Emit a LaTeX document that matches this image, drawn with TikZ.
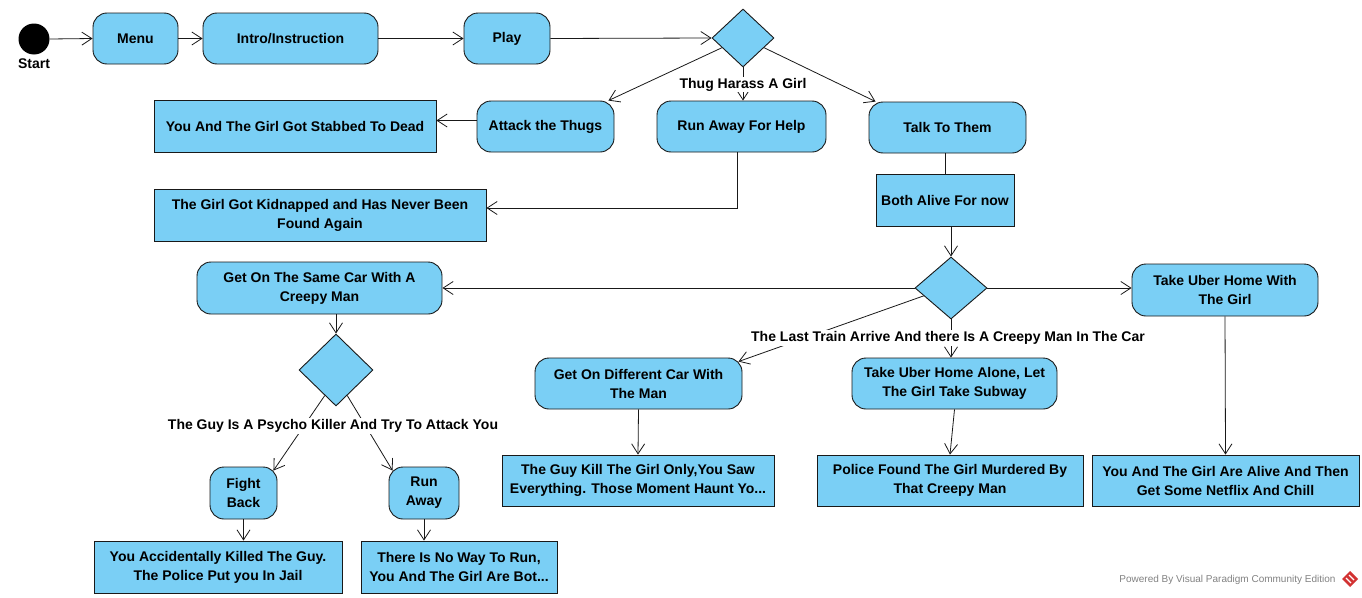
\documentclass[tikz,border=0pt]{standalone}
\usepackage{fontspec}
\setmainfont{Liberation Sans}
\usetikzlibrary{shapes.geometric,arrows.meta,calc}
\definecolor{vpblue}{RGB}{122,207,245}
\definecolor{vpline}{RGB}{25,25,25}
\definecolor{vpgray}{RGB}{130,130,130}
\definecolor{vpred}{RGB}{210,50,50}
\begin{document}
\begin{tikzpicture}[x=1pt,y=-1pt,
  every node/.style={font=\fontsize{14}{19}\selectfont\bfseries, text=black},
  act/.style={draw=vpline, fill=vpblue, rounded corners=14pt, align=center, inner sep=0pt, line width=0.9pt},
  res/.style={draw=vpline, fill=vpblue, align=center, inner sep=0pt, line width=0.9pt},
  dec/.style={diamond, draw=vpline, fill=vpblue, inner sep=0pt, line width=0.9pt},
  flow/.style={-{Straight Barb[length=10pt,width=13pt]}, line width=0.8pt, draw=vpline},
  plain/.style={line width=0.8pt, draw=vpline},
  lbl/.style={fill=white, inner sep=1pt}]
\useasboundingbox (0,0) rectangle (1362,597);
\fill[white] (0,0) rectangle (1362,597);

% nodes
\node[circle, fill=black, minimum size=31pt, inner sep=0pt] (start) at (34,39) {};
\node (startlbl) at (34,64) {Start};
\node[act, minimum width=85pt, minimum height=51pt] (menu) at (135.5,38.5) {Menu};
\node[act, minimum width=175pt, minimum height=51pt] (intro) at (290.5,38.5) {Intro/Instruction};
\node[act, minimum width=86pt, minimum height=51pt] (play) at (507,38.5) {Play};
\node[dec, minimum width=62pt, minimum height=58pt] (d1) at (743,38) {};
\node[act, minimum width=137pt, minimum height=51pt] (attack) at (545.5,126.5) {Attack the Thugs};
\node[act, minimum width=169pt, minimum height=51pt] (runhelp) at (741.5,126.5) {Run Away For Help};
\node[act, minimum width=157pt, minimum height=51pt] (talk) at (947.5,127.5) {Talk To Them};
\node[res, minimum width=282pt, minimum height=52pt] (stab) at (295,126) {You And The Girl Got Stabbed To Dead};
\node[res, minimum width=332pt, minimum height=52pt] (kidnap) at (320,215) {The Girl Got Kidnapped and Has Never Been\\Found Again};
\node[res, minimum width=138pt, minimum height=52pt] (alive) at (945,200) {Both Alive For now};
\node[dec, minimum width=72pt, minimum height=62pt] (d2) at (951,288) {};
\node[act, minimum width=186pt, minimum height=52pt] (uberg) at (1225,290) {Take Uber Home With\\The Girl};
\node[act, minimum width=245pt, minimum height=52pt] (samecar) at (319.5,288) {Get On The Same Car With A\\Creepy Man};
\node[act, minimum width=207pt, minimum height=51pt] (diffcar) at (638.5,383.5) {Get On Different Car With\\The Man};
\node[act, minimum width=205pt, minimum height=51pt] (uberalone) at (954.5,383.5) {Take Uber Home Alone, Let\\The Girl Take Subway};
\node[dec, minimum width=74pt, minimum height=72pt] (d3) at (336,370) {};
\node[act, minimum width=67pt, minimum height=52pt] (fight) at (243.5,493) {Fight\\Back};
\node[act, minimum width=70pt, minimum height=52pt] (runaway) at (424,493) {Run\\Away};
\node[res, minimum width=248pt, minimum height=52pt] (accident) at (218,567) {You Accidentally Killed The Guy.\\The Police Put you In Jail};
\node[res, minimum width=196pt, minimum height=52pt] (noway) at (459,567) {There Is No Way To Run,\\You And The Girl Are Bot...};
\node[res, minimum width=272pt, minimum height=51pt] (guykill) at (638,480.5) {The Guy Kill The Girl Only,You Saw\\Everything. Those Moment Haunt Yo...};
\node[res, minimum width=266pt, minimum height=51pt] (police) at (950,480.5) {Police Found The Girl Murdered By\\That Creepy Man};
\node[res, minimum width=267pt, minimum height=51pt] (netflix) at (1225.5,480.5) {You And The Girl Are Alive And Then\\Get Some Netflix And Chill};

% connectors
\draw[flow] (start.east) -- (menu.west);
\draw[flow] (menu.east) -- (intro.west);
\draw[flow] (intro.east) -- (play.west);
\draw[flow] (play.east) -- (d1.west);
\draw[flow] ($(d1.west)!0.33!(d1.south)$) -- ([xshift=-6pt]attack.north east);
\draw[flow] ($(d1.east)!0.33!(d1.south)$) -- ([xshift=7pt]talk.north west);
\draw[flow] (d1.south) -- (d1.south |- runhelp.north) node[lbl, pos=0.52] (thug) {Thug Harass A Girl};
\draw[flow] ([yshift=6pt]attack.west) -- ([yshift=6pt]attack.west -| stab.east);
\draw[flow] ([xshift=-4pt]runhelp.south) |- ([yshift=7pt]kidnap.east);
\draw[plain] (alive.north |- talk.south) -- (alive.north);
\draw[flow] (d2.north |- alive.south) -- (d2.north);
\draw[flow] (d2.west) -- (d2.west -| samecar.east);
\draw[flow] (d2.east) -- (d2.east -| uberg.west);
\draw[flow] ($(d2.west)!0.25!(d2.south)$) -- ([xshift=-4pt,yshift=-4pt]diffcar.north east);
\draw[flow] (d2.south) -- (d2.south |- uberalone.north);
\node[lbl] (trainlbl) at (948,338) {The Last Train Arrive And there Is A Creepy Man In The Car};
\draw[flow] (d3.north |- samecar.south) -- (d3.north);
\draw[flow] ($(d3.west)!0.7!(d3.south)$) -- ([xshift=-4pt,yshift=-4pt]fight.north east);
\draw[flow] ($(d3.east)!0.7!(d3.south)$) -- ([xshift=4pt,yshift=-4pt]runaway.north west);
\node[lbl] (psycholbl) at (333,426) {The Guy Is A Psycho Killer And Try To Attack You};
\draw[flow] (fight.south) -- (fight.south |- accident.north);
\draw[flow] (runaway.south) -- (runaway.south |- noway.north);
\draw[flow] (diffcar.south) -- (guykill.north);
\draw[flow] (uberalone.south) -- (police.north);
\draw[flow] (uberg.south) -- (netflix.north);

% footer
\node[font=\fontsize{10}{11}\selectfont, text=vpgray, anchor=east] (powered) at (1339,580) {Powered By Visual Paradigm Community Edition};
\fill[vpred] (1350,571) -- (1358,579) -- (1350,587) -- (1342,579) -- cycle;
\draw[white, line width=1.2pt] (1346,578) -- (1351,583) (1349,575) -- (1354,580);
\end{tikzpicture}
\end{document}
